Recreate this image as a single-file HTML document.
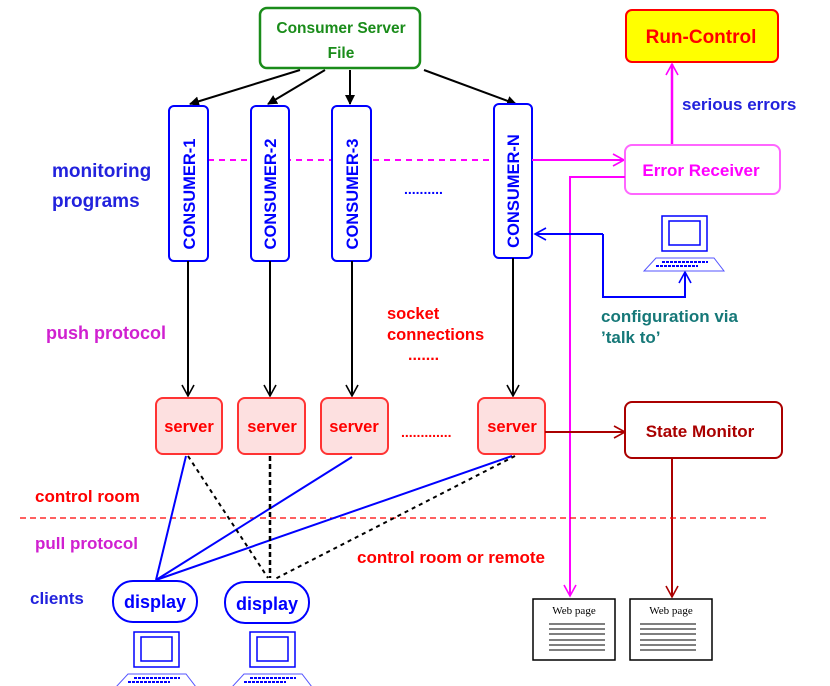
<!DOCTYPE html>
<html><head><meta charset="utf-8"><style>
html,body{margin:0;padding:0;background:#fff;}
svg{display:block;font-family:"Liberation Sans",sans-serif;font-weight:bold;}
</style></head><body>
<svg width="830" height="686" viewBox="0 0 830 686" xmlns="http://www.w3.org/2000/svg">
<defs>
<marker id="ab" markerWidth="10" markerHeight="10" refX="9" refY="5" orient="auto" markerUnits="userSpaceOnUse"><path d="M0,0 L10,5 L0,10 z" fill="#000"/></marker>
<marker id="ob" markerWidth="14" markerHeight="14" refX="12" refY="7" orient="auto" markerUnits="userSpaceOnUse"><path d="M1,1 L12,7 L1,13" fill="none" stroke="#000" stroke-width="1.6"/></marker>
<marker id="om" markerWidth="14" markerHeight="14" refX="12" refY="7" orient="auto" markerUnits="userSpaceOnUse"><path d="M1,1 L12,7 L1,13" fill="none" stroke="#f0f" stroke-width="1.6"/></marker>
<marker id="obl" markerWidth="14" markerHeight="14" refX="12" refY="7" orient="auto" markerUnits="userSpaceOnUse"><path d="M1,1 L12,7 L1,13" fill="none" stroke="#00f" stroke-width="1.6"/></marker>
<marker id="or" markerWidth="14" markerHeight="14" refX="12" refY="7" orient="auto" markerUnits="userSpaceOnUse"><path d="M1,1 L12,7 L1,13" fill="none" stroke="#a00" stroke-width="1.6"/></marker>
<g id="lap">
<rect x="18" y="0" width="45" height="35" fill="#fff" stroke="#00f" stroke-width="1.5"/>
<rect x="25" y="5" width="31" height="24" fill="#fff" stroke="#00f" stroke-width="1.5"/>
<path d="M12,42 L70,42 L80,55 L0,55 Z" fill="#fff" stroke="#55f" stroke-width="1"/>
<path d="M18,46 H64 M12,50 H54" stroke="#00f" stroke-width="2" stroke-dasharray="3,1"/>
</g>
</defs>

<rect x="260" y="8" width="160" height="60" rx="7" fill="#fff" stroke="#1a8c1a" stroke-width="2.5"/>
<text x="341" y="33" font-size="15.5" fill="#1a8c1a" text-anchor="middle">Consumer Server</text>
<text x="341" y="58" font-size="15.5" fill="#1a8c1a" text-anchor="middle">File</text>

<line x1="300" y1="70" x2="190" y2="104" stroke="#000" stroke-width="2" marker-end="url(#ab)"/>
<line x1="325" y1="70" x2="268" y2="104" stroke="#000" stroke-width="2" marker-end="url(#ab)"/>
<line x1="350" y1="70" x2="350" y2="104" stroke="#000" stroke-width="2" marker-end="url(#ab)"/>
<line x1="424" y1="70" x2="516" y2="104" stroke="#000" stroke-width="2" marker-end="url(#ab)"/>

<rect x="626" y="10" width="152" height="52" rx="6" fill="#ff0" stroke="#f00" stroke-width="2"/>
<text x="701" y="43" font-size="19" fill="#f00" text-anchor="middle">Run-Control</text>
<line x1="672" y1="145" x2="672" y2="64" stroke="#f0f" stroke-width="2.5" marker-end="url(#om)"/>
<text x="682" y="110" font-size="17" fill="#22d">serious errors</text>

<line x1="208" y1="160" x2="494" y2="160" stroke="#f0f" stroke-width="2" stroke-dasharray="6,5"/>
<g fill="#fff" stroke="#00f" stroke-width="2">
<rect x="169" y="106" width="39" height="155" rx="5"/>
<rect x="251" y="106" width="38" height="155" rx="5"/>
<rect x="332" y="106" width="39" height="155" rx="5"/>
<rect x="494" y="104" width="38" height="154" rx="5"/>
</g>
<g font-size="16.5" fill="#00f" text-anchor="middle">
<text transform="translate(195,194) rotate(-90)">CONSUMER-1</text>
<text transform="translate(276,194) rotate(-90)">CONSUMER-2</text>
<text transform="translate(358,194) rotate(-90)">CONSUMER-3</text>
<text transform="translate(519,191) rotate(-90)">CONSUMER-N</text>
</g>
<text x="404" y="194" font-size="14" fill="#00f">..........</text>
<text x="52" y="177" font-size="19" fill="#22d">monitoring</text>
<text x="52" y="207" font-size="19" fill="#22d">programs</text>

<line x1="532" y1="160" x2="624" y2="160" stroke="#f0f" stroke-width="2" marker-end="url(#om)"/>
<rect x="625" y="145" width="155" height="49" rx="7" fill="#fff" stroke="#f6f" stroke-width="2"/>
<text x="701" y="176" font-size="17" fill="#f0f" text-anchor="middle" style="font-weight:600">Error Receiver</text>
<polyline points="625,177 570,177 570,596" fill="none" stroke="#f0f" stroke-width="2" marker-end="url(#om)"/>

<polyline points="603,234 603,297 685,297 685,272" fill="none" stroke="#00f" stroke-width="2" marker-end="url(#obl)"/>
<line x1="603" y1="234" x2="535" y2="234" stroke="#00f" stroke-width="2" marker-end="url(#obl)"/>
<use href="#lap" x="644" y="216"/>
<text x="601" y="322" font-size="17" fill="#167878">configuration via</text>
<text x="601" y="343" font-size="17" fill="#167878">’talk to’</text>

<text x="46" y="339" font-size="18" fill="#d020d0">push protocol</text>
<text x="387" y="319" font-size="16.5" fill="#f00">socket</text>
<text x="387" y="340" font-size="16.5" fill="#f00">connections</text>
<text x="408" y="360" font-size="16" fill="#f00">.......</text>

<g stroke="#000" stroke-width="2">
<line x1="188" y1="261" x2="188" y2="396" marker-end="url(#ob)"/>
<line x1="270" y1="261" x2="270" y2="396" marker-end="url(#ob)"/>
<line x1="352" y1="261" x2="352" y2="396" marker-end="url(#ob)"/>
<line x1="513" y1="258" x2="513" y2="396" marker-end="url(#ob)"/>
</g>

<g fill="#fde0e0" stroke="#f33" stroke-width="2">
<rect x="156" y="398" width="66" height="56" rx="7"/>
<rect x="238" y="398" width="67" height="56" rx="7"/>
<rect x="321" y="398" width="67" height="56" rx="7"/>
<rect x="478" y="398" width="67" height="56" rx="7"/>
</g>
<g font-size="16.5" fill="#f00" text-anchor="middle">
<text x="189" y="432">server</text>
<text x="272" y="432">server</text>
<text x="354" y="432">server</text>
<text x="512" y="432">server</text>
</g>
<text x="401" y="437" font-size="14" fill="#f00">.............</text>

<line x1="545" y1="432" x2="625" y2="432" stroke="#a00" stroke-width="2" marker-end="url(#or)"/>
<rect x="625" y="402" width="157" height="56" rx="7" fill="#fff" stroke="#a00" stroke-width="2"/>
<text x="700" y="437" font-size="17" fill="#a00" text-anchor="middle">State Monitor</text>
<line x1="672" y1="458" x2="672" y2="597" stroke="#a00" stroke-width="2" marker-end="url(#or)"/>

<line x1="20" y1="518" x2="768" y2="518" stroke="#f00" stroke-width="1.2" stroke-dasharray="6,4"/>
<text x="35" y="502" font-size="17" fill="#f00" style="font-weight:600">control room</text>
<text x="35" y="549" font-size="17" fill="#d020d0">pull protocol</text>
<text x="30" y="604" font-size="17" fill="#22d">clients</text>
<text x="357" y="563" font-size="17" fill="#f00" style="font-weight:600">control room or remote</text>

<g stroke="#00f" stroke-width="2">
<line x1="186" y1="456" x2="156" y2="580"/>
<line x1="352" y1="457" x2="156" y2="580"/>
<line x1="512" y1="456" x2="156" y2="580"/>
</g>
<g stroke="#000" stroke-width="2" stroke-dasharray="4,4">
<line x1="188" y1="456" x2="268" y2="578"/>
<line x1="515" y1="456" x2="273" y2="580"/>
</g>
<line x1="270" y1="456" x2="270" y2="578" stroke="#000" stroke-width="2.5" stroke-dasharray="5,3"/>

<g fill="#fff" stroke="#00f" stroke-width="2">
<rect x="113" y="581" width="84" height="41" rx="20"/>
<rect x="225" y="582" width="84" height="41" rx="20"/>
</g>
<text x="155" y="608" font-size="18" fill="#00f" text-anchor="middle">display</text>
<text x="267" y="610" font-size="18" fill="#00f" text-anchor="middle">display</text>
<use href="#lap" x="116" y="632"/>
<use href="#lap" x="232" y="632"/>

<g fill="#fff" stroke="#000" stroke-width="1.5">
<rect x="533" y="599" width="82" height="61"/>
<rect x="630" y="599" width="82" height="61"/>
</g>
<text x="574" y="614" font-size="11" fill="#000" text-anchor="middle" style="font-family:'Liberation Serif',serif;font-weight:normal">Web page</text>
<text x="671" y="614" font-size="11" fill="#000" text-anchor="middle" style="font-family:'Liberation Serif',serif;font-weight:normal">Web page</text>
<g stroke="#555" stroke-width="1.5">
<path d="M549,624H605M549,629H605M549,634H605M549,640H605M549,645H605M549,650H605"/>
<path d="M640,624H696M640,629H696M640,634H696M640,640H696M640,645H696M640,650H696"/>
</g>
</svg>
</body></html>
